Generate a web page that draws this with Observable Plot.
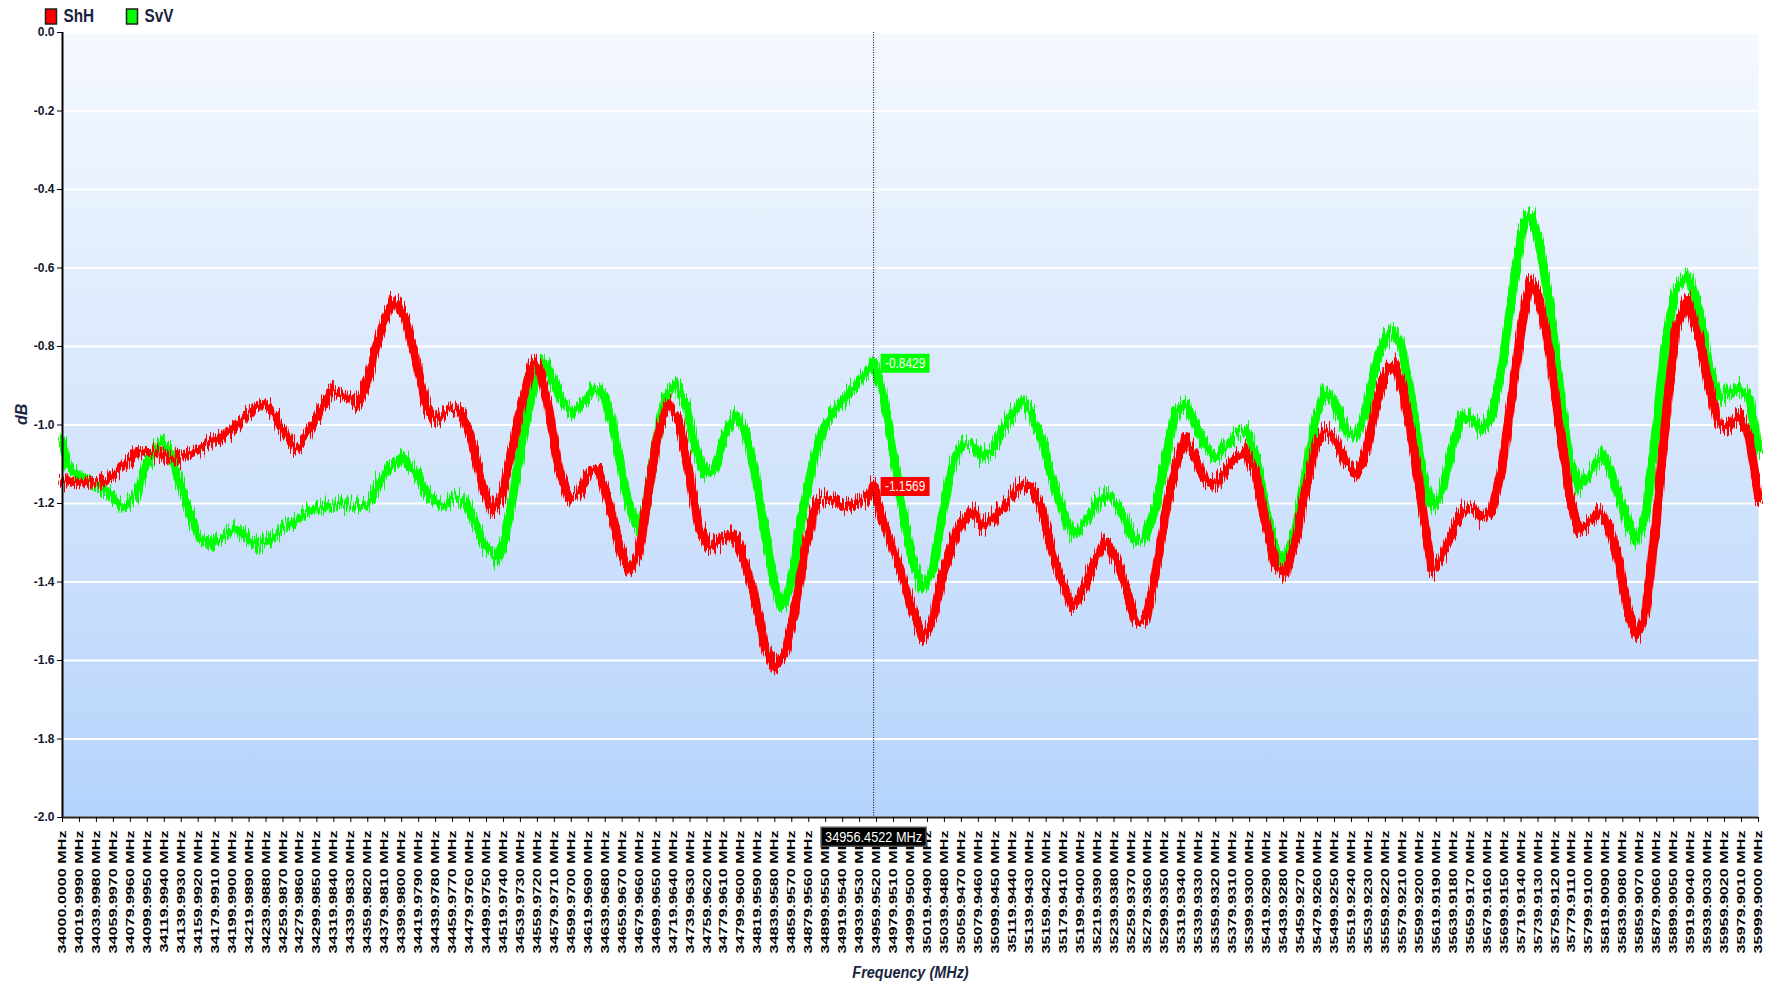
<!DOCTYPE html>
<html><head><meta charset="utf-8">
<script src="https://cdn.jsdelivr.net/npm/d3@7"></script>
<script src="https://cdn.jsdelivr.net/npm/@observablehq/plot@0.6"></script>
<style>html,body{margin:0;padding:0;background:#fff;} #chart svg{display:block;}</style>
</head><body><div id="chart"></div>
<script>
// ---- data (frequency MHz, dB) ----
const seriesNames = ["ShH", "SvV"];
const seriesColors = ["#ff0000", "#00ff00"];
const shhPoints = [[34000,-1.142],[34031,-1.146],[34051,-1.142],[34070,-1.108],[34090,-1.065],[34110,-1.07],[34129,-1.087],[34149,-1.074],[34169,-1.053],[34188,-1.031],[34208,-0.997],[34228,-0.955],[34239,-0.946],[34251,-0.98],[34267,-1.04],[34275,-1.061],[34287,-1.031],[34306,-0.955],[34318,-0.912],[34334,-0.929],[34349,-0.946],[34361,-0.878],[34373,-0.776],[34389,-0.68],[34404,-0.725],[34416,-0.827],[34428,-0.946],[34440,-0.989],[34452,-0.963],[34463,-0.955],[34471,-0.972],[34483,-1.04],[34495,-1.151],[34507,-1.219],[34518,-1.185],[34530,-1.065],[34542,-0.938],[34554,-0.844],[34562,-0.853],[34573,-0.955],[34585,-1.108],[34597,-1.185],[34609,-1.176],[34621,-1.125],[34632,-1.117],[34644,-1.193],[34656,-1.304],[34668,-1.372],[34680,-1.321],[34691,-1.168],[34703,-1.014],[34715,-0.946],[34727,-0.989],[34739,-1.125],[34750,-1.253],[34762,-1.312],[34774,-1.295],[34786,-1.278],[34798,-1.304],[34805,-1.35],[34817,-1.448],[34829,-1.568],[34841,-1.619],[34853,-1.576],[34864,-1.465],[34876,-1.312],[34888,-1.202],[34900,-1.185],[34912,-1.193],[34923,-1.21],[34935,-1.202],[34947,-1.193],[34956.4522,-1.1569],[34967,-1.244],[34978,-1.304],[34990,-1.38],[35002,-1.474],[35014,-1.542],[35026,-1.5],[35037,-1.389],[35049,-1.304],[35061,-1.244],[35073,-1.219],[35084,-1.253],[35096,-1.244],[35108,-1.21],[35120,-1.176],[35132,-1.151],[35143,-1.159],[35155,-1.219],[35167,-1.321],[35179,-1.406],[35191,-1.465],[35206,-1.415],[35218,-1.338],[35230,-1.295],[35242,-1.338],[35254,-1.414],[35265,-1.5],[35277,-1.5],[35289,-1.38],[35301,-1.219],[35313,-1.1],[35324,-1.031],[35336,-1.083],[35348,-1.142],[35360,-1.151],[35372,-1.117],[35383,-1.083],[35395,-1.065],[35407,-1.125],[35419,-1.253],[35430,-1.355],[35442,-1.38],[35454,-1.295],[35466,-1.168],[35478,-1.048],[35489,-1.014],[35501,-1.04],[35513,-1.091],[35525,-1.125],[35537,-1.074],[35548,-0.955],[35560,-0.87],[35570,-0.844],[35580,-0.904],[35592,-1.04],[35604,-1.22],[35615,-1.372],[35627,-1.338],[35639,-1.27],[35651,-1.219],[35662,-1.21],[35674,-1.236],[35686,-1.219],[35698,-1.1],[35710,-0.912],[35721,-0.742],[35731,-0.631],[35741,-0.674],[35753,-0.81],[35765,-0.997],[35776,-1.168],[35788,-1.27],[35800,-1.253],[35812,-1.219],[35823,-1.253],[35835,-1.346],[35847,-1.483],[35857,-1.542],[35867,-1.474],[35879,-1.253],[35890,-0.997],[35902,-0.759],[35916,-0.683],[35930,-0.776],[35941,-0.895],[35953,-0.997],[35965,-1.006],[35977,-0.972],[35989,-1.031],[35999.9,-1.185]];
const svvPoints = [[34000,-1.04],[34007,-1.108],[34031,-1.142],[34051,-1.168],[34070,-1.206],[34086,-1.185],[34098,-1.108],[34110,-1.057],[34117,-1.04],[34127,-1.065],[34137,-1.142],[34149,-1.219],[34161,-1.287],[34173,-1.304],[34188,-1.287],[34200,-1.261],[34212,-1.278],[34228,-1.304],[34243,-1.295],[34259,-1.261],[34275,-1.244],[34290,-1.219],[34306,-1.21],[34326,-1.206],[34345,-1.206],[34361,-1.197],[34373,-1.15],[34385,-1.108],[34400,-1.083],[34416,-1.117],[34432,-1.185],[34448,-1.202],[34463,-1.185],[34475,-1.193],[34487,-1.253],[34499,-1.312],[34511,-1.346],[34522,-1.287],[34534,-1.151],[34546,-0.997],[34558,-0.878],[34568,-0.836],[34577,-0.878],[34589,-0.938],[34601,-0.972],[34613,-0.946],[34628,-0.904],[34640,-0.929],[34652,-1.031],[34664,-1.168],[34676,-1.261],[34688,-1.21],[34699,-1.057],[34711,-0.929],[34723,-0.895],[34735,-0.946],[34746,-1.057],[34758,-1.125],[34770,-1.108],[34782,-1.023],[34794,-0.972],[34805,-1.014],[34817,-1.125],[34829,-1.278],[34841,-1.423],[34849,-1.465],[34860,-1.389],[34872,-1.227],[34884,-1.1],[34896,-1.014],[34908,-0.972],[34923,-0.929],[34939,-0.887],[34951,-0.861],[34956.4522,-0.8429],[34967,-0.912],[34978,-1.048],[34990,-1.21],[35002,-1.346],[35014,-1.414],[35026,-1.372],[35037,-1.236],[35049,-1.1],[35061,-1.048],[35073,-1.048],[35084,-1.083],[35096,-1.065],[35108,-1.014],[35120,-0.972],[35132,-0.938],[35143,-0.972],[35155,-1.04],[35167,-1.134],[35179,-1.219],[35191,-1.278],[35206,-1.25],[35218,-1.202],[35230,-1.176],[35242,-1.193],[35254,-1.244],[35265,-1.295],[35277,-1.287],[35289,-1.21],[35301,-1.083],[35313,-0.963],[35324,-0.946],[35336,-0.997],[35348,-1.057],[35360,-1.083],[35372,-1.048],[35383,-1.023],[35395,-1.014],[35407,-1.074],[35419,-1.219],[35430,-1.312],[35442,-1.346],[35454,-1.27],[35466,-1.125],[35478,-0.98],[35489,-0.912],[35501,-0.946],[35513,-1.014],[35525,-1.031],[35537,-0.963],[35548,-0.853],[35560,-0.776],[35570,-0.759],[35580,-0.81],[35592,-0.946],[35603,-1.12],[35615,-1.21],[35627,-1.168],[35639,-1.057],[35651,-0.972],[35662,-0.989],[35674,-1.014],[35686,-0.972],[35698,-0.844],[35710,-0.657],[35721,-0.504],[35731,-0.461],[35741,-0.529],[35753,-0.683],[35765,-0.895],[35776,-1.083],[35788,-1.159],[35800,-1.125],[35816,-1.074],[35827,-1.125],[35839,-1.21],[35855,-1.295],[35867,-1.236],[35879,-1.014],[35890,-0.793],[35902,-0.657],[35916,-0.614],[35930,-0.708],[35941,-0.844],[35953,-0.929],[35965,-0.921],[35977,-0.904],[35989,-0.929],[35999.9,-1.065]];
const cursorFreq = 34956.4522;
const cursorValues = [-1.1569, -0.8429]; // ShH, SvV
const yTicks = [-2.0, -1.8, -1.6, -1.4, -1.2, -1.0, -0.8, -0.6, -0.4, -0.2, 0.0];
const xTickStart = 34000, xTickStep = 19.999, xTickCount = 101;
const xTicks = d3.range(xTickCount).map(k => xTickStart + k * xTickStep);

// ---- tables ----
const shh = shhPoints.map(([f, v]) => ({f, v}));
const svv = svvPoints.map(([f, v]) => ({f, v}));
const cursor = cursorValues.map((v, i) => ({f: cursorFreq, v, c: seriesColors[i]}));

const rectSym = (x, y, w, h) => ({draw(ctx) { ctx.rect(x, y, w, h); }});

const chart = Plot.plot({
  width: 1780, height: 991,
  marginTop: 32, marginLeft: 62, marginRight: 22, marginBottom: 174,
  style: {fontFamily: "'Liberation Sans', Arial, sans-serif", background: "#ffffff", color: "#000"},
  x: {domain: [34000, 35999.9]},
  y: {domain: [-2, 0]},
  marks: [
    Plot.frame({fill: "url(#bg)", stroke: "none"}),
    Plot.gridY(yTicks, {stroke: "#ffffff", strokeOpacity: 1, strokeWidth: 2}),
    Plot.line(svv, {x: "f", y: "v", stroke: seriesColors[1], strokeWidth: 9}),
    Plot.line(shh, {x: "f", y: "v", stroke: seriesColors[0], strokeWidth: 9}),
    Plot.ruleX([34000], {stroke: "#000", strokeWidth: 2}),
    Plot.ruleY([-2], {stroke: "#222", strokeWidth: 2}),
    Plot.axisY(yTicks, {tickFormat: d => d.toFixed(1), tickSize: 5, tickPadding: 3, fontSize: 12, fontWeight: "bold", fill: "#101830", stroke: "#000", label: null}),
    Plot.axisX(xTicks, {tickRotate: -90, tickFormat: d => d.toFixed(4) + " MHz", tickSize: 5, tickPadding: 8, fontSize: 11, fontWeight: "bold", fill: "#000", stroke: "#000", label: null}),
    Plot.text(["Frequency (MHz)"], {frameAnchor: "bottom", dy: 160, fontSize: 17, fontStyle: "italic", fontWeight: "bold", fill: "#1a2540"}),
    Plot.text(["dB"], {frameAnchor: "left", dx: -41, rotate: -90, fontSize: 16, fontStyle: "italic", fontWeight: "bold", fill: "#1a2540"}),
    // cursor
    Plot.ruleX([cursorFreq], {stroke: "#000", strokeWidth: 1, strokeDasharray: "1,1.5"}),
    Plot.dot(cursor, {x: "f", y: "v", r: 5, fill: "c", stroke: "none"}),
    Plot.dot(cursor, {x: "f", y: "v", r: 1, fill: "c", stroke: "none", symbol: rectSym(7, -9.5, 49, 19)}),
    Plot.text(cursor, {x: "f", y: "v", text: d => d.v.toFixed(4), dx: 31.5, fill: "#fff", fontSize: 14}),
    Plot.dot([cursorFreq], {x: d => d, y: () => -2, r: 1, fill: "#000", stroke: "#555", symbol: rectSym(-52.5, 9.7, 105, 19)}),
    Plot.text([cursorFreq], {x: d => d, y: () => -2, dy: 19.2, text: d => d.toFixed(4) + " MHz", fill: "#fff", fontSize: 15}),
    // legend
    Plot.dot([0], {x: () => 34000, y: () => 0, dx: -11.5, dy: -16, r: 1, fill: seriesColors[0], stroke: "#222", symbol: rectSym(-5.5, -7.5, 11, 15)}),
    Plot.text([seriesNames[0]], {x: () => 34000, y: () => 0, dx: 1, dy: -16, textAnchor: "start", fontSize: 18, fontWeight: "bold", fill: "#1a2340"}),
    Plot.dot([0], {x: () => 34000, y: () => 0, dx: 69.5, dy: -16, r: 1, fill: seriesColors[1], stroke: "#222", symbol: rectSym(-5.5, -7.5, 11, 15)}),
    Plot.text([seriesNames[1]], {x: () => 34000, y: () => 0, dx: 82, dy: -16, textAnchor: "start", fontSize: 18, fontWeight: "bold", fill: "#1a2340"})
  ]
});

// gradient background + noisy band texture (vertical jitter only) for the traces
const defs = document.createElementNS("http://www.w3.org/2000/svg", "defs");
defs.innerHTML = '<linearGradient id="bg" x1="0" y1="0" x2="0" y2="1"><stop offset="0" stop-color="#f5f9ff"/><stop offset="0.5" stop-color="#d6e6fc"/><stop offset="1" stop-color="#b5d3fc"/></linearGradient>' +
  '<filter id="jit" x="-2%" y="-15%" width="104%" height="130%"><feTurbulence type="fractalNoise" baseFrequency="0.8 0.035" numOctaves="2" seed="7" result="n"/>' +
  '<feColorMatrix in="n" type="matrix" values="0 0 0 0 0.5  0 1 0 0 0  0 0 1 0 0  0 0 0 0 1" result="m"/>' +
  '<feDisplacementMap in="SourceGraphic" in2="m" scale="26" xChannelSelector="R" yChannelSelector="G"/></filter>';
chart.insertBefore(defs, chart.firstChild);
chart.querySelectorAll('g[aria-label="line"]').forEach(g => g.setAttribute("filter", "url(#jit)"));
// elongate rotated tick labels as in the reference
chart.querySelectorAll('g[aria-label="x-axis tick label"] text').forEach(t => {
  const tr = t.getAttribute("transform");
  if (tr) t.setAttribute("transform", tr + " scale(1.47,1)");
});
// horizontally condensed texts (legend, title, value boxes)
const squeeze = new Set(["Frequency (MHz)", "ShH", "SvV", "-0.8429", "-1.1569", "34956.4522 MHz"]);
chart.querySelectorAll('g[aria-label="text"] text').forEach(t => {
  if (!squeeze.has(t.textContent)) return;
  const tr = t.getAttribute("transform");
  if (tr && tr.includes("translate")) t.setAttribute("transform", tr + " scale(0.85,1)");
  else {
    const x = +t.getAttribute("x") || 0;
    t.setAttribute("transform", `translate(${x},0) scale(0.85,1) translate(${-x},0)` + (tr ? " " + tr : ""));
  }
});
document.getElementById("chart").appendChild(chart);
</script></body></html>
